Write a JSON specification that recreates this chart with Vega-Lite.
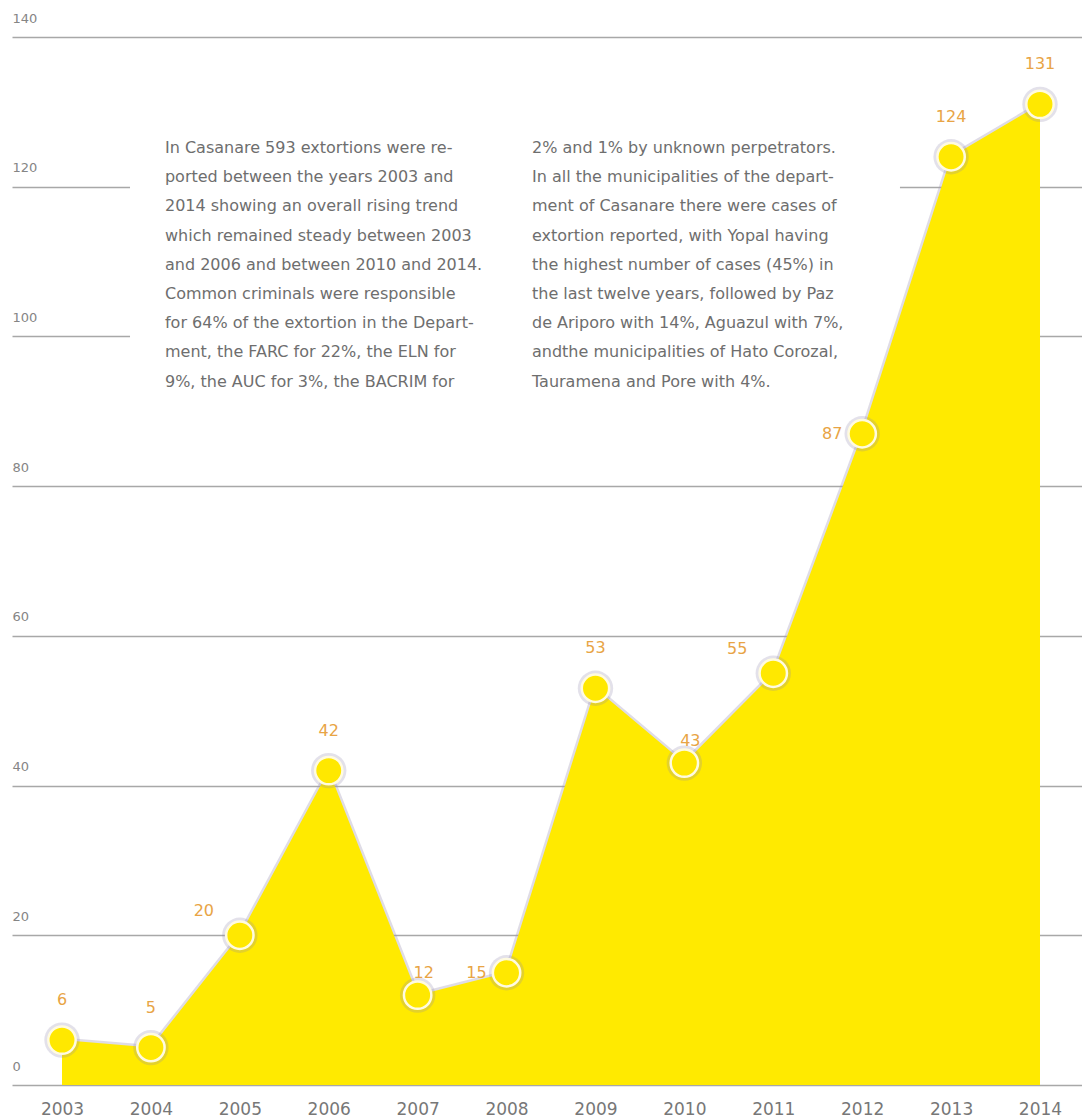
{
  "$schema": "https://vega.github.io/schema/vega-lite/v6.json",
  "width": 1070,
  "height": 1048,
  "autosize": {"type": "none"},
  "padding": {"left": 12, "top": 37, "right": 0, "bottom": 33},
  "background": "white",
  "config": {"view": {"stroke": null}, "font": "DejaVu Sans"},
  "data": {"values": [
      {"year": 2003, "cases": 6},
      {"year": 2004, "cases": 5},
      {"year": 2005, "cases": 20},
      {"year": 2006, "cases": 42},
      {"year": 2007, "cases": 12},
      {"year": 2008, "cases": 15},
      {"year": 2009, "cases": 53},
      {"year": 2010, "cases": 43},
      {"year": 2011, "cases": 55},
      {"year": 2012, "cases": 87},
      {"year": 2013, "cases": 124},
      {"year": 2014, "cases": 131}
  ]},
  "layer": [
    {
      "transform": [{"filter": "datum.year === 2003"}],
      "mark": {"type": "rect", "color": "white", "opacity": 1},
      "encoding": {
        "x": {"datum": 2003.765, "type": "quantitative", "scale": {"domain": [2002.4376, 2014.4724], "nice": false, "zero": false}},
        "x2": {"datum": 2012.425},
        "y": {"datum": 127.6, "type": "quantitative", "scale": {"domain": [0, 140], "nice": false}},
        "y2": {"datum": 90.8}
      }
    },
    {
      "mark": {"type": "line", "stroke": "#a39cb8", "strokeWidth": 5, "opacity": 0.35},
      "encoding": {
        "x": {"field": "year", "type": "quantitative"},
        "y": {"field": "cases", "type": "quantitative"}
      }
    },
    {
      "mark": {"type": "area", "color": "#ffea00"},
      "encoding": {
        "x": {
          "field": "year", "type": "quantitative",
          "axis": {
            "title": null, "values": [2003,2004,2005,2006,2007,2008,2009,2010,2011,2012,2013,2014],
            "format": "d", "grid": false, "domain": false, "ticks": false, "tickSize": 0,
            "labelPadding": 16, "labelFontSize": 17, "labelColor": "#777777", "labelFont": "DejaVu Sans",
            "labelFlush": false, "labelOverlap": false
          }
        },
        "y": {
          "field": "cases", "type": "quantitative",
          "axis": {
            "title": null, "values": [0,20,40,60,80,100,120,140],
            "grid": true, "gridColor": "#a8a8a8", "gridWidth": 1.5,
            "domain": false, "ticks": false, "tickSize": 0,
            "labelAlign": "left", "labelPadding": 0, "labelBaseline": "alphabetic", "labelOffset": -15,
            "labelFontSize": 13, "labelColor": "#858585", "labelFont": "DejaVu Sans"
          }
        }
      }
    },
    {
      "mark": {"type": "point", "filled": true, "size": 1250, "color": "#9088aa", "opacity": 0.25},
      "encoding": {
        "x": {"field": "year", "type": "quantitative"},
        "y": {"field": "cases", "type": "quantitative"}
      }
    },
    {
      "mark": {"type": "point", "filled": true, "size": 750, "fill": "#ffe800", "stroke": "#fffbe0", "strokeWidth": 2.5, "opacity": 1},
      "encoding": {
        "x": {"field": "year", "type": "quantitative"},
        "y": {"field": "cases", "type": "quantitative"}
      }
    },
    {
      "transform": [{"filter": {"field": "year", "oneOf": [2003, 2004, 2006, 2009, 2013, 2014]}}],
      "mark": {"type": "text", "dy": -40, "fontSize": 16, "color": "#e8a445", "font": "DejaVu Sans"},
      "encoding": {
        "x": {"field": "year", "type": "quantitative"},
        "y": {"field": "cases", "type": "quantitative"},
        "text": {"field": "cases", "type": "quantitative"}
      }
    },
    {
      "transform": [{"filter": {"field": "year", "oneOf": [2007, 2010]}}],
      "mark": {"type": "text", "dy": -22, "dx": 6, "fontSize": 16, "color": "#e8a445", "font": "DejaVu Sans"},
      "encoding": {
        "x": {"field": "year", "type": "quantitative"},
        "y": {"field": "cases", "type": "quantitative"},
        "text": {"field": "cases", "type": "quantitative"}
      }
    },
    {
      "transform": [{"filter": {"field": "year", "oneOf": [2008, 2012]}}],
      "mark": {"type": "text", "dx": -30, "dy": 0, "fontSize": 16, "color": "#e8a445", "font": "DejaVu Sans"},
      "encoding": {
        "x": {"field": "year", "type": "quantitative"},
        "y": {"field": "cases", "type": "quantitative"},
        "text": {"field": "cases", "type": "quantitative"}
      }
    },
    {
      "transform": [{"filter": {"field": "year", "oneOf": [2005, 2011]}}],
      "mark": {"type": "text", "dx": -36, "dy": -24, "fontSize": 16, "color": "#e8a445", "font": "DejaVu Sans"},
      "encoding": {
        "x": {"field": "year", "type": "quantitative"},
        "y": {"field": "cases", "type": "quantitative"},
        "text": {"field": "cases", "type": "quantitative"}
      }
    },
    {
      "transform": [{"filter": "datum.year === 2003"}],
      "mark": {
        "type": "text", "align": "left", "baseline": "middle", "fontSize": 16, "lineHeight": 29.2,
        "color": "#6e6e6e", "font": "DejaVu Sans",
        "text": [
          "In Casanare 593 extortions were re-",
          "ported between the years 2003 and",
          "2014 showing an overall rising trend",
          "which remained steady between 2003",
          "and 2006 and between 2010 and 2014.",
          "Common criminals were responsible",
          "for 64% of the extortion in the Depart-",
          "ment, the FARC for 22%, the ELN for",
          "9%, the AUC for 3%, the BACRIM for"
        ]
      },
      "encoding": {
        "x": {"datum": 2004.158, "type": "quantitative"},
        "y": {"datum": 125.17, "type": "quantitative"}
      }
    },
    {
      "transform": [{"filter": "datum.year === 2003"}],
      "mark": {
        "type": "text", "align": "left", "baseline": "middle", "fontSize": 16, "lineHeight": 29.2,
        "color": "#6e6e6e", "font": "DejaVu Sans",
        "text": [
          "2% and 1% by unknown perpetrators.",
          "In all the municipalities of the depart-",
          "ment of Casanare there were cases of",
          "extortion reported, with Yopal having",
          "the highest number of cases (45%) in",
          "the last twelve years, followed by Paz",
          "de Ariporo with 14%, Aguazul with 7%,",
          "andthe municipalities of Hato Corozal,",
          "Tauramena and Pore with 4%."
        ]
      },
      "encoding": {
        "x": {"datum": 2008.286, "type": "quantitative"},
        "y": {"datum": 125.17, "type": "quantitative"}
      }
    }
  ]
}
